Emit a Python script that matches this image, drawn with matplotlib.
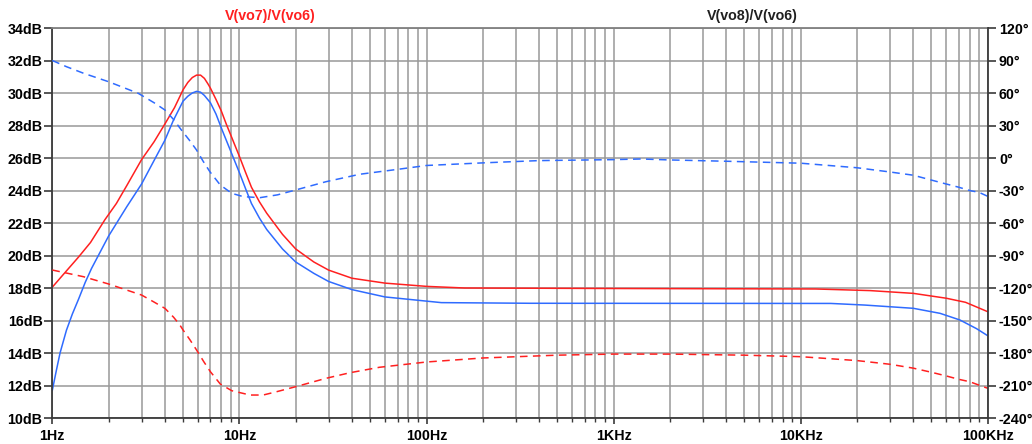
import numpy as np
import matplotlib
matplotlib.use("Agg")
import matplotlib.pyplot as plt
from matplotlib.ticker import FixedLocator, NullFormatter

plt.rcParams['font.family'] = ['Liberation Sans', 'DejaVu Sans']

# ---------------- data ----------------
f_red_mag = [1, 1.1, 1.2, 1.38, 1.6, 1.91, 2.2, 2.5, 3, 3.5, 4, 4.5, 5, 5.3, 5.6, 5.9, 6.2,
             6.5, 6.8, 7, 7.5, 8, 8.5, 9, 10, 10.8, 11.6, 12.8, 14, 17, 20, 25, 30, 40, 60,
             100, 160, 1000, 12000, 23500, 40000, 60000, 76000, 100000]
red_mag = [18.05, 18.6, 19.1, 19.9, 20.8, 22.2, 23.2, 24.3, 25.9, 27.0, 28.1, 29.1, 30.2,
           30.65, 30.95, 31.1, 31.1, 30.9, 30.55, 30.3, 29.6, 28.9, 28.1, 27.4, 26.1, 25.1,
           24.2, 23.3, 22.6, 21.3, 20.4, 19.6, 19.1, 18.6, 18.3, 18.1, 18.0, 17.97, 17.94,
           17.84, 17.67, 17.37, 17.12, 16.54]

f_blue_mag = [1, 1.05, 1.1, 1.19, 1.28, 1.38, 1.5, 1.62, 1.8, 2, 2.5, 3, 3.5, 4, 4.43, 5, 5.3,
              5.6, 5.9, 6.2, 6.5, 7, 7.5, 8.1, 9, 10, 10.8, 11.6, 12.8, 14, 17, 20, 25, 30,
              40, 60, 120, 357, 14500, 22000, 40000, 55600, 71000, 87000, 100000]
blue_mag = [11.7, 12.9, 14.0, 15.4, 16.4, 17.3, 18.35, 19.2, 20.2, 21.2, 23.0, 24.4, 25.85,
            27.1, 28.3, 29.5, 29.8, 30.0, 30.1, 30.05, 29.85, 29.4, 28.7, 27.7, 26.4, 25.1,
            24.1, 23.2, 22.3, 21.6, 20.4, 19.6, 18.9, 18.4, 17.9, 17.45, 17.1, 17.06, 17.05,
            16.95, 16.75, 16.44, 16.03, 15.5, 15.06]

f_blue_ph = [1, 1.19, 1.47, 2, 2.88, 3.5, 4, 4.45, 4.9, 5.4, 5.9, 6.4, 6.95, 7.9, 9.1, 10.5,
             12.9, 16, 20, 29, 44, 70, 100, 200, 400, 1000, 1400, 2000, 4000, 10000, 20000,
             30000, 40000, 50000, 60000, 70000, 80000, 90000, 100000]
blue_ph = [90, 84.3, 78.2, 70.4, 59.7, 51, 44.3, 35.5, 25.8, 16.5, 7.4, -3, -12.6, -24.9,
           -32.6, -35.7, -36.6, -34, -29.5, -21.9, -15, -10.5, -6.9, -4.5, -2.4, -1.5, -0.9,
           -1.8, -3, -4.8, -9, -12.9, -15.9, -20.4, -24, -27, -30, -31.8, -35.4]

f_red_ph = [1, 1.47, 2, 3, 3.5, 4, 4.45, 4.8, 5, 5.45, 5.9, 6.45, 7, 7.9, 9.1, 11.4, 13.4, 16,
            20, 29, 39, 56, 100, 200, 500, 1000, 2000, 5000, 10000, 20000, 30000, 40000,
            50000, 60000, 70000, 80000, 100000]
red_ph = [-103.4, -109.6, -116.3, -126.5, -133, -138.8, -147, -154, -158.8, -168, -177.2,
          -188, -197.3, -208.6, -214.8, -218.8, -218.8, -215.5, -211.1, -203.4, -198.2,
          -193.2, -188.3, -184.6, -182, -181, -181, -182, -183.4, -187, -190.4, -194, -197.8,
          -201.2, -204.3, -206.5, -212.6]

db_ticks = list(range(10, 35, 2))
db_labels = [f"{v}dB" for v in db_ticks]
deg_ticks = list(range(-240, 121, 30))
deg_labels = [f"{v}°" for v in deg_ticks]
x_ticks = [1, 10, 100, 1000, 10000, 100000]
x_labels = ["1Hz", "10Hz", "100Hz", "1KHz", "10KHz", "100KHz"]
title_left = "V(vo7)/V(vo6)"
title_right = "V(vo8)/V(vo6)"

RED = "#ff2020"
BLUE = "#2f6bff"
GRID = "#999999"
DARK = "#3a3a3a"
FS = 10.3

fig = plt.figure(figsize=(10.32, 4.44), dpi=100)
ax = fig.add_axes([52.3 / 1032, 1 - 418 / 444, (987.8 - 52.3) / 1032, (418 - 28) / 444])
ax2 = ax.twinx()

ax.set_xscale('log')
ax.set_xlim(1, 100000)
ax.set_ylim(10, 34)
ax2.set_ylim(-240, 120)

minor = [m * 10 ** d for d in range(0, 5) for m in range(2, 10)]
ax.xaxis.set_major_locator(FixedLocator(x_ticks))
ax.xaxis.set_minor_locator(FixedLocator(minor))
ax.xaxis.set_minor_formatter(NullFormatter())
ax.set_xticklabels(x_labels)
ax.set_yticks(db_ticks)
ax.set_yticklabels(db_labels)
ax2.set_yticks(deg_ticks)
ax2.set_yticklabels(deg_labels)

ax.grid(True, which='both', axis='x', color=GRID, lw=1.1)
ax.grid(True, which='major', axis='y', color=GRID, lw=1.1)
ax.set_axisbelow(True)

for a in (ax, ax2):
    for s in a.spines.values():
        s.set_visible(False)
ax.spines['left'].set_visible(True)
ax.spines['left'].set_color(DARK)
ax.spines['left'].set_linewidth(1.3)
ax.spines['bottom'].set_visible(True)
ax.spines['bottom'].set_color(DARK)
ax.spines['bottom'].set_linewidth(1.3)
ax2.spines['right'].set_visible(True)
ax2.spines['right'].set_color(DARK)
ax2.spines['right'].set_linewidth(1.3)
ax.spines['top'].set_visible(True)
ax.spines['top'].set_color('#808080')
ax.spines['top'].set_linewidth(1.3)

ax.tick_params(axis='y', direction='out', length=6, width=1.2, color=DARK, pad=1,
               labelsize=FS)
ax2.tick_params(axis='y', direction='out', length=6, width=1.2, color=DARK, pad=2,
                labelsize=FS)
ax.tick_params(axis='x', which='major', direction='out', length=4, width=1.2, color=DARK,
               pad=4, labelsize=FS)
ax.tick_params(axis='x', which='minor', direction='out', length=3, width=1.0, color=DARK)
for lab in ax.get_xticklabels() + ax.get_yticklabels() + ax2.get_yticklabels():
    lab.set_fontweight('bold')

ax.plot(f_red_mag, red_mag, color=RED, lw=1.1)
ax.plot(f_blue_mag, blue_mag, color=BLUE, lw=1.1)
ax2.plot(f_red_ph, red_ph, color=RED, lw=1.1, ls=(0, (5, 3.5)))
ax2.plot(f_blue_ph, blue_ph, color=BLUE, lw=1.1, ls=(0, (5, 3.5)))

fig.text(270 / 1032, 1 - 16 / 444, title_left, color=RED, fontsize=FS, fontweight='bold',
         ha='center', va='center')
fig.text(752 / 1032, 1 - 16 / 444, title_right, color='#202020', fontsize=FS,
         fontweight='bold', ha='center', va='center')

fig.savefig("out.png", dpi=100)
